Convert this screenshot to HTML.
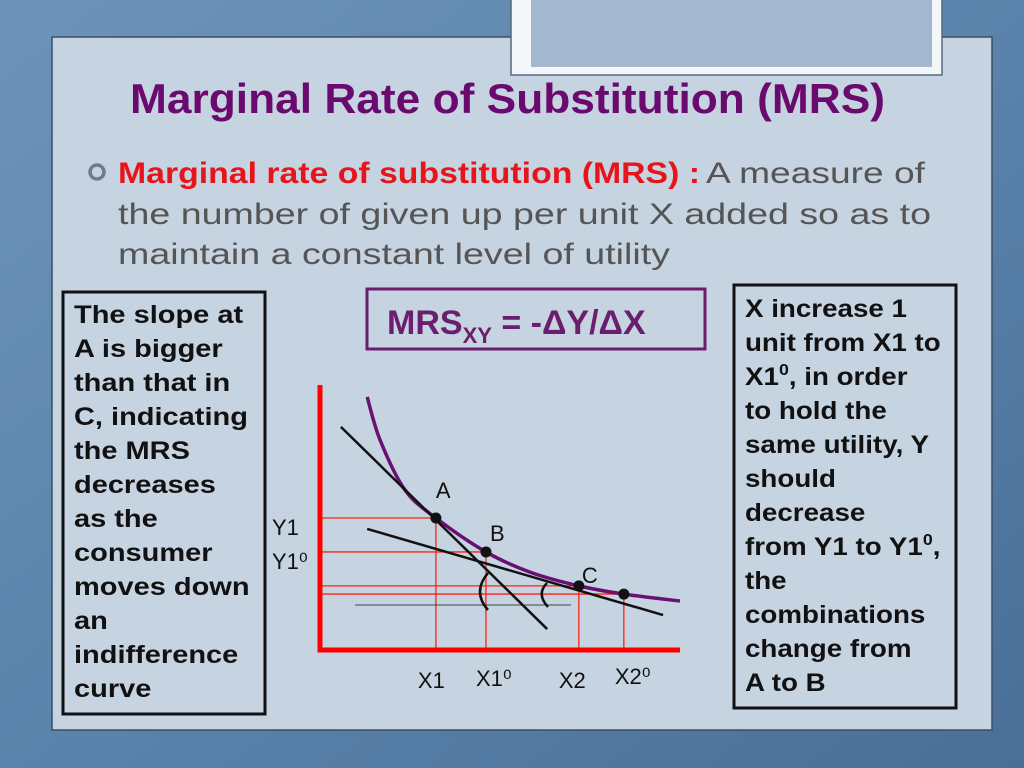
<!DOCTYPE html>
<html><head><meta charset="utf-8"><style>
html,body{margin:0;padding:0;width:1024px;height:768px;overflow:hidden}
svg{display:block}
text{font-family:"Liberation Sans",sans-serif}
</style></head><body>
<svg width="1024" height="768" viewBox="0 0 1024 768">
<defs>
<linearGradient id="bg" x1="0" y1="0" x2="1" y2="1">
<stop offset="0" stop-color="#6d93b8"/><stop offset="0.5" stop-color="#5b83ab"/><stop offset="1" stop-color="#4a6f97"/>
</linearGradient>
</defs>
<rect width="1024" height="768" fill="url(#bg)"/>
<rect x="52" y="37" width="940" height="693" fill="#c6d4e1" stroke="#3b4f66" stroke-width="1.5"/>
<rect x="511" y="-2" width="431" height="77" fill="#f4f7fa" stroke="#55697f" stroke-width="1.5"/>
<rect x="531" y="0" width="401" height="67" fill="#a3b8cf"/>

<text x="130" y="113" font-size="42" font-weight="bold" fill="#6b0a6e" textLength="755" lengthAdjust="spacingAndGlyphs">Marginal Rate of Substitution (MRS)</text>

<circle cx="97" cy="172" r="7" fill="none" stroke="#6a7c8e" stroke-width="3.5"/>
<text x="118" y="183" font-size="30"><tspan font-weight="bold" fill="#e8141c" textLength="582" lengthAdjust="spacingAndGlyphs">Marginal rate of substitution (MRS) :</tspan></text>
<text x="706" y="183" font-size="30" fill="#555" textLength="219" lengthAdjust="spacingAndGlyphs">A measure of</text>
<text x="118" y="224" font-size="30" fill="#555" textLength="813" lengthAdjust="spacingAndGlyphs">the number of given up per unit X added so as to</text>
<text x="118" y="264" font-size="30" fill="#555" textLength="552" lengthAdjust="spacingAndGlyphs">maintain a constant level of utility</text>

<rect x="63" y="292" width="202" height="422" fill="none" stroke="#111" stroke-width="3"/>
<g font-size="25" font-weight="bold" fill="#111" transform="translate(74 0) scale(1.16 1) translate(-74 0)">
<text x="74" y="323">The slope at</text><text x="74" y="357">A is bigger</text><text x="74" y="391">than that in</text><text x="74" y="425">C, indicating</text><text x="74" y="459">the MRS</text><text x="74" y="493">decreases</text><text x="74" y="527">as the</text><text x="74" y="561">consumer</text><text x="74" y="595">moves down</text><text x="74" y="629">an</text><text x="74" y="663">indifference</text><text x="74" y="697">curve</text>
</g>

<rect x="734" y="285" width="222" height="423" fill="none" stroke="#111" stroke-width="3"/>
<g font-size="25" font-weight="bold" fill="#111" transform="translate(745 0) scale(1.11 1) translate(-745 0)">
<text x="745" y="317">X increase 1</text><text x="745" y="351">unit from X1 to</text><text x="745" y="385">X1<tspan font-size="16" dy="-10">0</tspan><tspan dy="10">, in order</tspan></text><text x="745" y="419">to hold the</text><text x="745" y="453">same utility, Y</text><text x="745" y="487">should</text><text x="745" y="521">decrease</text><text x="745" y="555">from Y1 to Y1<tspan font-size="16" dy="-10">0</tspan><tspan dy="10">,</tspan></text><text x="745" y="589">the</text><text x="745" y="623">combinations</text><text x="745" y="657">change from</text><text x="745" y="691">A to B</text>
</g>

<rect x="367" y="289" width="338" height="60" fill="none" stroke="#6b1d6e" stroke-width="3"/>
<text x="387" y="334" font-size="34" font-weight="bold" fill="#6b1d6e">MRS<tspan font-size="22" dy="9">XY</tspan><tspan dy="-9"> = -ΔY/ΔX</tspan></text>

<g id="chart"></g>
</svg>
<script>
const curveX = [1.31, 1.67, 2.36, 3.22, 4.61, 5.83, 7.19, 8.44, 10.0];
const curveY = [9.55, 7.92, 6.04, 4.98, 3.70, 2.94, 2.42, 2.11, 1.85];
const pointNames = ['A', 'B', 'C', ''];
const pointX = [3.22, 4.61, 7.19, 8.44];
const pointY = [4.98, 3.70, 2.42, 2.11];
const tangentAX = [0.58, 6.31];
const tangentAY = [8.42, 0.79];
const tangentCX = [1.31, 9.53];
const tangentCY = [4.57, 1.32];
const xTickLabels = ['X1', 'X1⁰', 'X2', 'X2⁰'];
const yTickLabels = ['Y1', 'Y1⁰'];

const sx = v => 320 + v * 36;
const sy = v => 650 - v * 26.5;
const NS = 'http://www.w3.org/2000/svg';
const g = document.getElementById('chart');
function mk(tag, attrs) {
  const e = document.createElementNS(NS, tag);
  for (const k in attrs) e.setAttribute(k, attrs[k]);
  g.appendChild(e);
  return e;
}
for (let i = 0; i < pointX.length; i++) {
  let e = mk('line', {x1: sx(0), y1: sy(pointY[i]), x2: sx(pointX[i]), y2: sy(pointY[i]), stroke: '#f21', 'stroke-width': 1.3});
  
  
  e = mk('line', {x1: sx(pointX[i]), y1: sy(pointY[i]), x2: sx(pointX[i]), y2: sy(0), stroke: '#f21', 'stroke-width': 1.3});
  
  
}
let gl = mk('line', {x1: 355, y1: 605, x2: 571, y2: 605, stroke: '#444', 'stroke-width': 1});


let ax = mk('path', {d: `M${sx(0)} ${sy(10)} L${sx(0)} ${sy(0)} L${sx(10)} ${sy(0)}`, fill: 'none', stroke: '#f00', 'stroke-width': 5});


let pts = curveX.map((x, i) => [sx(x), sy(curveY[i])]);
let d = `M${pts[0][0]} ${pts[0][1]}`;
for (let i = 0; i < pts.length - 1; i++) {
  const p0 = pts[Math.max(0, i - 1)], p1 = pts[i], p2 = pts[i + 1], p3 = pts[Math.min(pts.length - 1, i + 2)];
  d += ` C${p1[0] + (p2[0] - p0[0]) / 6} ${p1[1] + (p2[1] - p0[1]) / 6} ${p2[0] - (p3[0] - p1[0]) / 6} ${p2[1] - (p3[1] - p1[1]) / 6} ${p2[0]} ${p2[1]}`;
}
let cv = mk('path', {d: d, fill: 'none', stroke: '#6a0f74', 'stroke-width': 3.5});


let ta = mk('line', {x1: sx(tangentAX[0]), y1: sy(tangentAY[0]), x2: sx(tangentAX[1]), y2: sy(tangentAY[1]), stroke: '#111', 'stroke-width': 2.5});


let tc = mk('line', {x1: sx(tangentCX[0]), y1: sy(tangentCY[0]), x2: sx(tangentCX[1]), y2: sy(tangentCY[1]), stroke: '#111', 'stroke-width': 2.5});


let a1 = mk('path', {d: 'M488 573 Q472 592 488 610', fill: 'none', stroke: '#111', 'stroke-width': 2.5});


let a2 = mk('path', {d: 'M547 583 Q536 594 548 607', fill: 'none', stroke: '#111', 'stroke-width': 2.5});


for (let i = 0; i < pointX.length; i++) {
  const c = mk('circle', {cx: sx(pointX[i]), cy: sy(pointY[i]), r: 5.5, fill: '#111'});
  
  
  if (pointNames[i]) {
    const off = [[0, -20], [4, -11], [3, -3]][i];
    const t = mk('text', {x: sx(pointX[i]) + off[0], y: sy(pointY[i]) + off[1], 'font-size': 22, fill: '#111'});
    t.textContent = pointNames[i];
    
    
  }
}
const xOff = [[-18, 38], [-10, 36], [-20, 38], [-9, 34]];
for (let i = 0; i < xTickLabels.length; i++) {
  const t = mk('text', {x: sx(pointX[i]) + xOff[i][0], y: sy(0) + xOff[i][1], 'font-size': 22, fill: '#111'});
  t.textContent = xTickLabels[i];
  
  
}
for (let i = 0; i < yTickLabels.length; i++) {
  const t = mk('text', {x: 272, y: sy(pointY[i]) + 17, 'font-size': 22, fill: '#111'});
  t.textContent = yTickLabels[i];
  
  
}
</script>
</body></html>
